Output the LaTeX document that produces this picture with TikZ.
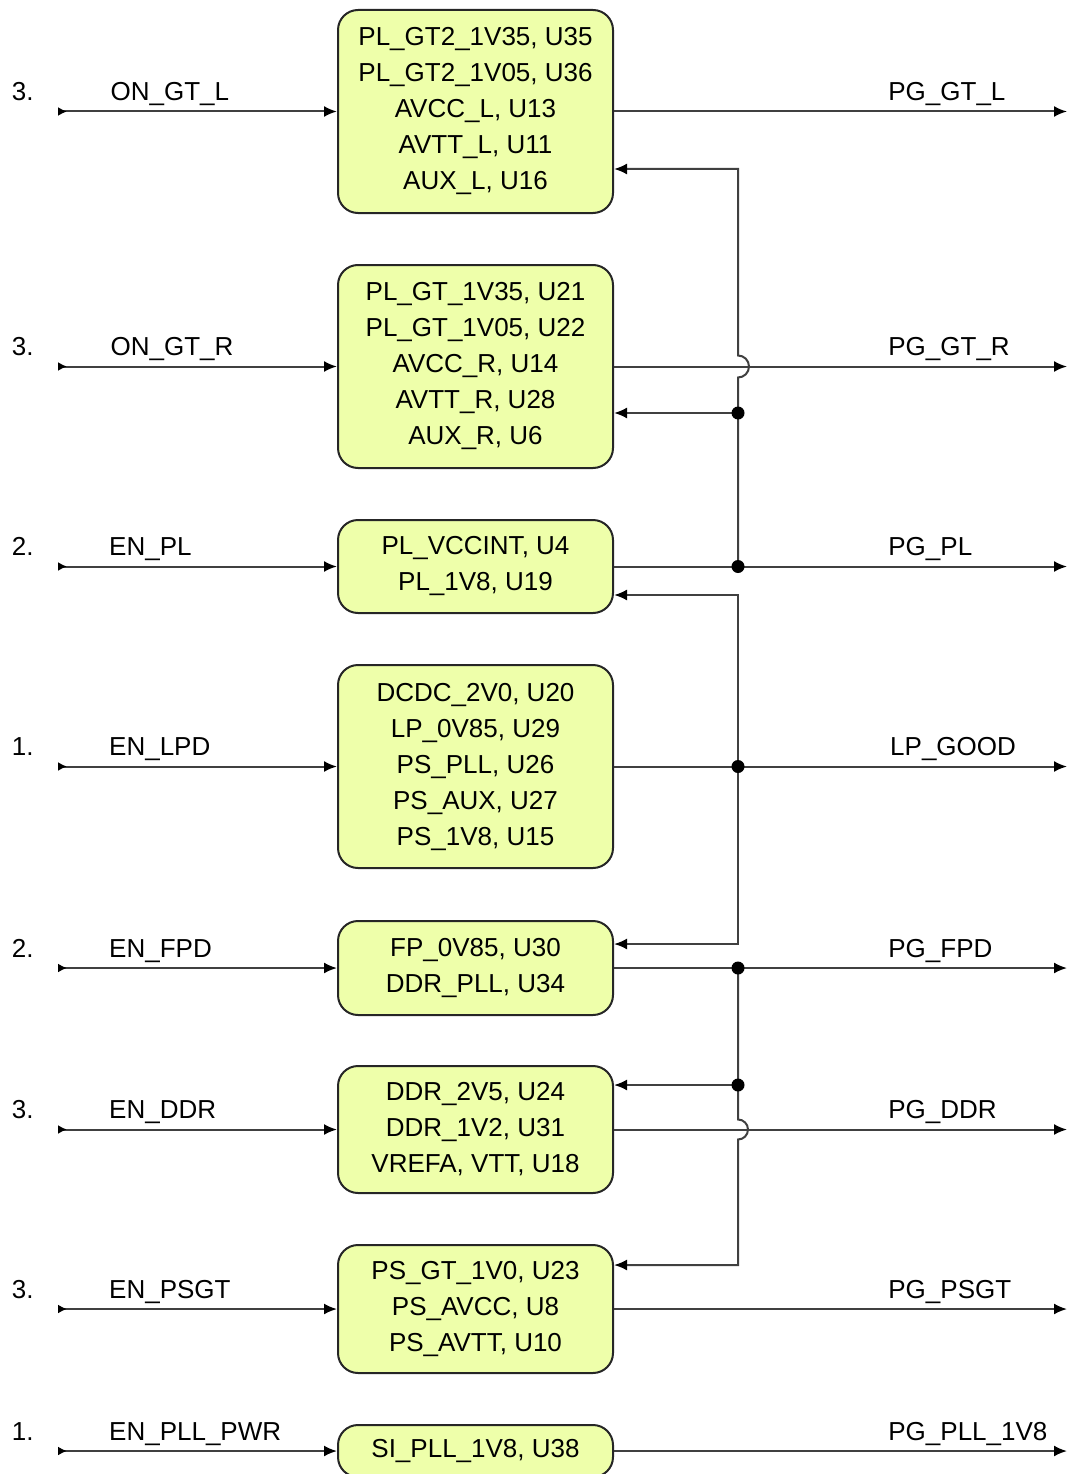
\documentclass[tikz,border=0pt]{standalone}
\usepackage{fontspec}
\setmainfont{Liberation Sans}
\usetikzlibrary{arrows.meta}
\definecolor{regfill}{RGB}{238,255,170}
\begin{document}
\begin{tikzpicture}[x=1pt, y=-1pt, line width=2pt,
  reg/.style={rectangle, draw=black!85, fill=regfill, rounded corners=20pt, align=center, minimum width=275pt, font=\fontsize{26}{36}\selectfont},
  sig/.style={draw=black!75, -{Latex[length=13pt,width=11pt,color=black]}},
  insig/.style={draw=black!75, {Latex[reversed,length=9pt,width=9pt,color=black]}-{Latex[length=13pt,width=11pt,color=black]}},
  lbl/.style={anchor=base west, inner sep=0pt, yshift=11pt, font=\fontsize{26}{30}\selectfont},
  dot/.style={fill=black}]
\useasboundingbox (0,0) rectangle (1067,1474);
% Regulators
\node (gt_l) [reg, minimum height=203pt] at (475.5,111.5) {PL\_GT2\_1V35, U35\\PL\_GT2\_1V05, U36\\AVCC\_L, U13\\AVTT\_L, U11\\AUX\_L, U16};
\node (gt_r) [reg, minimum height=203pt] at (475.5,366.5) {PL\_GT\_1V35, U21\\PL\_GT\_1V05, U22\\AVCC\_R, U14\\AVTT\_R, U28\\AUX\_R, U6};
\node (pl) [reg, minimum height=93pt] at (475.5,566.5) {PL\_VCCINT, U4\\PL\_1V8, U19};
\node (lpd) [reg, minimum height=203pt] at (475.5,766.5) {DCDC\_2V0, U20\\LP\_0V85, U29\\PS\_PLL, U26\\PS\_AUX, U27\\PS\_1V8, U15};
\node (fpd) [reg, minimum height=94pt] at (475.5,968) {FP\_0V85, U30\\DDR\_PLL, U34};
\node (ddr) [reg, minimum height=127pt] at (475.5,1129.5) {DDR\_2V5, U24\\DDR\_1V2, U31\\VREFA, VTT, U18};
\node (psgt) [reg, minimum height=128pt] at (475.5,1309) {PS\_GT\_1V0, U23\\PS\_AVCC, U8\\PS\_AVTT, U10};
\node (pll) [reg, minimum height=52pt] at (475.5,1451) {SI\_PLL\_1V8, U38};

% Enables in
\coordinate (in_gt_l) at (58,111.5);
\coordinate (in_gt_r) at (58,366.5);
\coordinate (in_pl) at (58,566.5);
\coordinate (in_lpd) at (58,766.5);
\coordinate (in_fpd) at (58,968);
\coordinate (in_ddr) at (58,1129.5);
\coordinate (in_psgt) at (58,1309);
\coordinate (in_pll) at (58,1451);
\draw [insig] (in_gt_l) -- node[lbl, pos=0.185] {ON\_GT\_L} (gt_l);
\draw [insig] (in_gt_r) -- node[lbl, pos=0.185] {ON\_GT\_R} (gt_r);
\draw [insig] (in_pl) -- node[lbl, pos=0.18] {EN\_PL} (pl);
\draw [insig] (in_lpd) -- node[lbl, pos=0.18] {EN\_LPD} (lpd);
\draw [insig] (in_fpd) -- node[lbl, pos=0.18] {EN\_FPD} (fpd);
\draw [insig] (in_ddr) -- node[lbl, pos=0.18] {EN\_DDR} (ddr);
\draw [insig] (in_psgt) -- node[lbl, pos=0.18] {EN\_PSGT} (psgt);
\draw [insig] (in_pll) -- node[lbl, pos=0.18] {EN\_PLL\_PWR} (pll);

% Sequence numbers
\node (n_gt_l) [lbl] at (11,111.5) {3.};
\node (n_gt_r) [lbl] at (11,366.5) {3.};
\node (n_pl) [lbl] at (11,566.5) {2.};
\node (n_lpd) [lbl] at (11,766.5) {1.};
\node (n_fpd) [lbl] at (11,968) {2.};
\node (n_ddr) [lbl] at (11,1129.5) {3.};
\node (n_psgt) [lbl] at (11,1309) {3.};
\node (n_pll) [lbl] at (11,1451) {1.};

% Power good out
\coordinate (out_gt_l) at (1067,111.5);
\coordinate (out_gt_r) at (1067,366.5);
\coordinate (out_pl) at (1067,566.5);
\coordinate (out_lpd) at (1067,766.5);
\coordinate (out_fpd) at (1067,968);
\coordinate (out_ddr) at (1067,1129.5);
\coordinate (out_psgt) at (1067,1309);
\coordinate (out_pll) at (1067,1451);
\draw [sig] (gt_l) -- node[lbl, pos=0.6035] {PG\_GT\_L} (out_gt_l);
\draw [sig] (gt_r) -- node[lbl, pos=0.6035] {PG\_GT\_R} (out_gt_r);
\draw [sig] (pl) -- node[lbl, pos=0.6035] {PG\_PL} (out_pl);
\draw [sig] (lpd) -- node[lbl, pos=0.6075] {LP\_GOOD} (out_lpd);
\draw [sig] (fpd) -- node[lbl, pos=0.6035] {PG\_FPD} (out_fpd);
\draw [sig] (ddr) -- node[lbl, pos=0.6035] {PG\_DDR} (out_ddr);
\draw [sig] (psgt) -- node[lbl, pos=0.6035] {PG\_PSGT} (out_psgt);
\draw [sig] (pll) -- node[lbl, pos=0.6035] {PG\_PLL\_1V8} (out_pll);

% Feedback of power good into later enables
\coordinate (j_pl) at (738,566.5);
\coordinate (j_gtr) at (738,413);
\coordinate (hop1) at (738,366.5);
\coordinate (k_gtl) at (738,169);
\draw [sig] (j_pl) -- (j_gtr) -- ([yshift=-11pt]hop1) arc[start angle=-90, end angle=90, radius=11pt] -- (k_gtl) -- (gt_l.east |- k_gtl);
\draw [sig] (j_gtr) -- (gt_r.east |- j_gtr);

\coordinate (j_lpd) at (738,766.5);
\coordinate (k_pl) at (738,595);
\coordinate (k_fpd) at (738,944);
\draw [sig] (j_lpd) -- (k_pl) -- (pl.east |- k_pl);
\draw [sig] (j_lpd) -- (k_fpd) -- (fpd.east |- k_fpd);

\coordinate (j_fpd) at (738,968);
\coordinate (j_ddr) at (738,1085);
\coordinate (hop2) at (738,1129.5);
\coordinate (k_psgt) at (738,1265);
\draw [sig] (j_fpd) -- (j_ddr) -- ([yshift=10pt]hop2) arc[start angle=90, end angle=-90, radius=10pt] -- (k_psgt) -- (psgt.east |- k_psgt);
\draw [sig] (j_ddr) -- (ddr.east |- j_ddr);

\foreach \j in {j_gtr, j_pl, j_lpd, j_fpd, j_ddr}
  \fill [dot] (\j) circle[radius=6.5pt];
\end{tikzpicture}
\end{document}
